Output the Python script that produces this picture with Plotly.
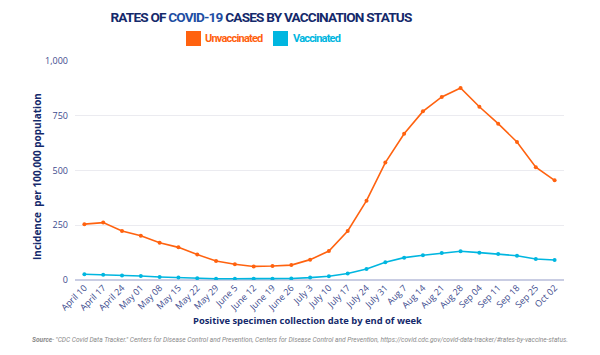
import plotly.graph_objects as go

weeks = ["April 10", "April 17", "April 24", "May 01", "May 08", "May 15", "May 22", "May 29",
         "June 5", "June 12", "June 19", "June 26", "July 3", "July 10", "July 17", "July 24",
         "July 31", "Aug 7", "Aug 14", "Aug 21", "Aug 28", "Sep 04", "Sep 11", "Sep 18",
         "Sep 25", "Oct 02"]
unvaccinated = [255, 262, 224, 202, 170, 149, 116, 87, 72, 62, 64, 68, 93, 132, 224, 362,
                536, 668, 770, 836, 877, 791, 714, 630, 515, 455]
vaccinated = [26, 24, 21, 18, 14, 11, 8, 6, 6, 6, 6, 7, 11, 17, 30, 50,
              81, 102, 113, 123, 131, 125, 119, 111, 96, 91]
y_ticks = [0, 250, 500, 750, 1000]
y_tick_labels = ["0", "250", "500", "750", "1,000"]
series_names = ["Unvaccinated", "Vaccinated"]

ORANGE = "#ff620f"
CYAN = "#00b6e0"
NAVY = "#14296b"
TICK = "#3d4b8e"
COND = "Roboto"

# plot area in pixels: x 75..564, y 61..280
L, R, T, B = 75, 36, 61, 75
PW, PH = 600 - L - R, 355 - T - B
def px(x):
    return (x - L) / PW
def py(y):
    return (355 - B - y) / PH
def tight(s, ls):
    return "<span style='letter-spacing:%spx'>%s</span>" % (ls, s)

fig = go.Figure()
fig.add_trace(go.Scatter(x=weeks, y=unvaccinated, mode="lines+markers", name=series_names[0],
                         line=dict(color=ORANGE, width=1.6), marker=dict(size=4, color=ORANGE),
                         showlegend=False))
fig.add_trace(go.Scatter(x=weeks, y=vaccinated, mode="lines+markers", name=series_names[1],
                         line=dict(color=CYAN, width=1.6), marker=dict(size=4, color=CYAN),
                         showlegend=False))

fig.update_layout(
    width=600, height=355,
    margin=dict(l=L, r=R, t=T, b=B),
    paper_bgcolor="white", plot_bgcolor="white",
    font=dict(family="Open Sans", color=TICK),
    showlegend=False,
    title=dict(text="<b>" + tight("RATES OF <span style='color:#1d4ea3'>COVID-19</span> CASES BY VACCINATION STATUS", -0.8) + "</b>",
               x=261 / 600, xanchor="center", y=1 - 17 / 355, yanchor="middle",
               font=dict(family=COND, size=13.6, color=NAVY)),
    xaxis=dict(range=[-0.5, 25.5], tickangle=-45, tickfont=dict(size=9, color=TICK),
               showgrid=False, showline=False, ticks="", automargin=False),
    yaxis=dict(range=[0, 1000], tickvals=y_ticks, ticktext=y_tick_labels,
               tickfont=dict(size=9, color=TICK), gridcolor="#ebebf0", gridwidth=1,
               zeroline=True, zerolinecolor="#c9cde3", zerolinewidth=1.5,
               ticks="", ticklabelstandoff=6, automargin=False),
)

# legend drawn manually
fig.add_shape(type="rect", xref="paper", yref="paper", x0=px(186), x1=px(201), y0=py(46), y1=py(31),
              fillcolor=ORANGE, line=dict(width=0))
fig.add_shape(type="rect", xref="paper", yref="paper", x0=px(273), x1=px(288), y0=py(46), y1=py(31),
              fillcolor=CYAN, line=dict(width=0))
fig.add_annotation(text="<b>%s</b>" % tight(series_names[0], -0.8), xref="paper", yref="paper", x=px(203), y=py(38.5),
                   xanchor="left", yanchor="middle", showarrow=False,
                   font=dict(family=COND, size=11, color=ORANGE))
fig.add_annotation(text="<b>%s</b>" % tight(series_names[1], -0.8), xref="paper", yref="paper", x=px(291), y=py(38.5),
                   xanchor="left", yanchor="middle", showarrow=False,
                   font=dict(family=COND, size=11, color=CYAN))

# axis titles
fig.add_annotation(text="<b>Positive specimen collection date by end of week</b>", xref="paper", yref="paper",
                   x=px(307), y=py(320), xanchor="center", yanchor="middle", showarrow=False,
                   font=dict(family="Open Sans", size=9.4, color=NAVY))
fig.add_annotation(text="<b>Incidence  per 100,000 population</b>", xref="paper", yref="paper",
                   x=px(37), y=py(177), xanchor="center", yanchor="middle", showarrow=False, textangle=-90,
                   font=dict(family="Open Sans", size=10, color=NAVY))

fig.add_annotation(
    text="<i><b>Source</b>- \"CDC Covid Data Tracker.\" Centers for Disease Control and Prevention, Centers for Disease Control and Prevention, https://covid.cdc.gov/covid-data-tracker/#rates-by-vaccine-status.</i>",
    xref="paper", yref="paper", x=px(300), y=py(340), xanchor="center", yanchor="middle",
    showarrow=False, font=dict(family=COND, size=6.6, color="#8a8a8a"),
)

fig.write_html("out.html", config={"displayModeBar": False},
               post_script="document.body.style.margin='0';")
